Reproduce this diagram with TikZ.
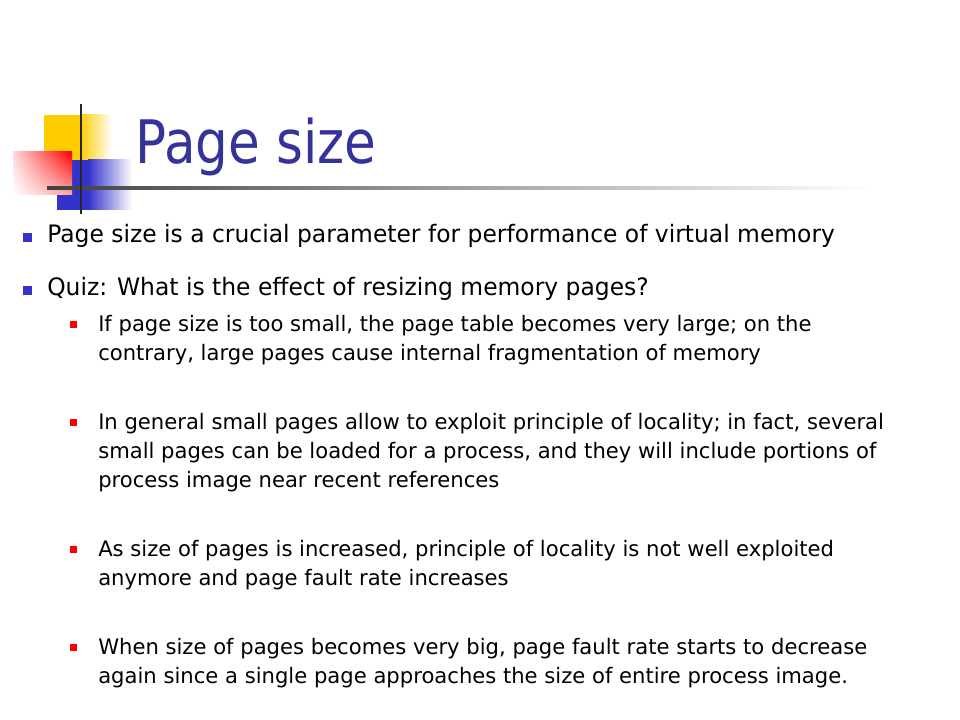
\documentclass[tikz,border=0pt]{standalone}
\usepackage{fontspec}
\usetikzlibrary{shadings}
\setmainfont{DejaVu Sans}
\newfontfamily\titlefont[FakeStretch=0.86]{DejaVu Sans}
\newfontfamily\onefont[FakeStretch=0.975]{DejaVu Sans}
\newfontfamily\twofont[FakeStretch=0.99]{DejaVu Sans}
\definecolor{titleblue}{HTML}{333399}
\definecolor{bulblue}{HTML}{3333CC}
\definecolor{logoyellow}{HTML}{FFCC00}
\definecolor{logoblue}{HTML}{3333CC}
\begin{document}
\begin{tikzpicture}[x=0.75pt,y=-0.75pt,
  lone/.style={anchor=base west,inner sep=0pt,font=\onefont\fontsize{18}{22}\selectfont},
  ltwo/.style={anchor=base west,inner sep=0pt,font=\twofont\fontsize{16}{19}\selectfont},
  bone/.style={fill=bulblue,draw=none},
  btwo/.style={fill=red,draw=none}]
\useasboundingbox[fill=white] (0,0) rectangle (960,720);
% logo
\fill[logoyellow] (44,115) rectangle (80,160);
\shade[left color=logoyellow,right color=white] (80,115) rectangle (112,160);
\fill[logoblue] (57,160) rectangle (88,210);
\shade[left color=logoblue,right color=white] (88,160) rectangle (132,210);
\shade[upper right=red,upper left=red!15,lower right=red!35,lower left=white] (13,152) rectangle (72,195);
\shade[left color=black!75,right color=white] (47,186.5) rectangle (870,189.5);
\fill[black!85] (80,104) rectangle (82.2,214);
% title
\node[anchor=base west,inner sep=0pt,text=titleblue,font=\titlefont\fontsize{45}{50}\selectfont] (title) at (135,164) {Page size};
% level one
\fill[bone] (23,233) rectangle (32,242);
\node[lone] (p1) at (47,243) {Page size is a crucial parameter for performance of virtual memory};
\fill[bone] (23,286) rectangle (32,295);
\node[lone] (p2) at (47,296) {Quiz: What is the effect of resizing memory pages?};
% level two
\fill[btwo] (70,321) rectangle (77,328);
\node[ltwo] (a1) at (98,331) {If page size is too small, the page table becomes very large; on the};
\node[ltwo] (a2) at (98,360) {contrary, large pages cause internal fragmentation of memory};
\fill[btwo] (70,419) rectangle (77,426);
\node[ltwo] (b1) at (98,429) {In general small pages allow to exploit principle of locality; in fact, several};
\node[ltwo] (b2) at (98,458) {small pages can be loaded for a process, and they will include portions of};
\node[ltwo] (b3) at (98,487) {process image near recent references};
\fill[btwo] (70,546) rectangle (77,553);
\node[ltwo] (c1) at (98,556) {As size of pages is increased, principle of locality is not well exploited};
\node[ltwo] (c2) at (98,585) {anymore and page fault rate increases};
\fill[btwo] (70,644) rectangle (77,651);
\node[ltwo] (d1) at (98,654) {When size of pages becomes very big, page fault rate starts to decrease};
\node[ltwo] (d2) at (98,683) {again since a single page approaches the size of entire process image.};
\end{tikzpicture}
\end{document}
